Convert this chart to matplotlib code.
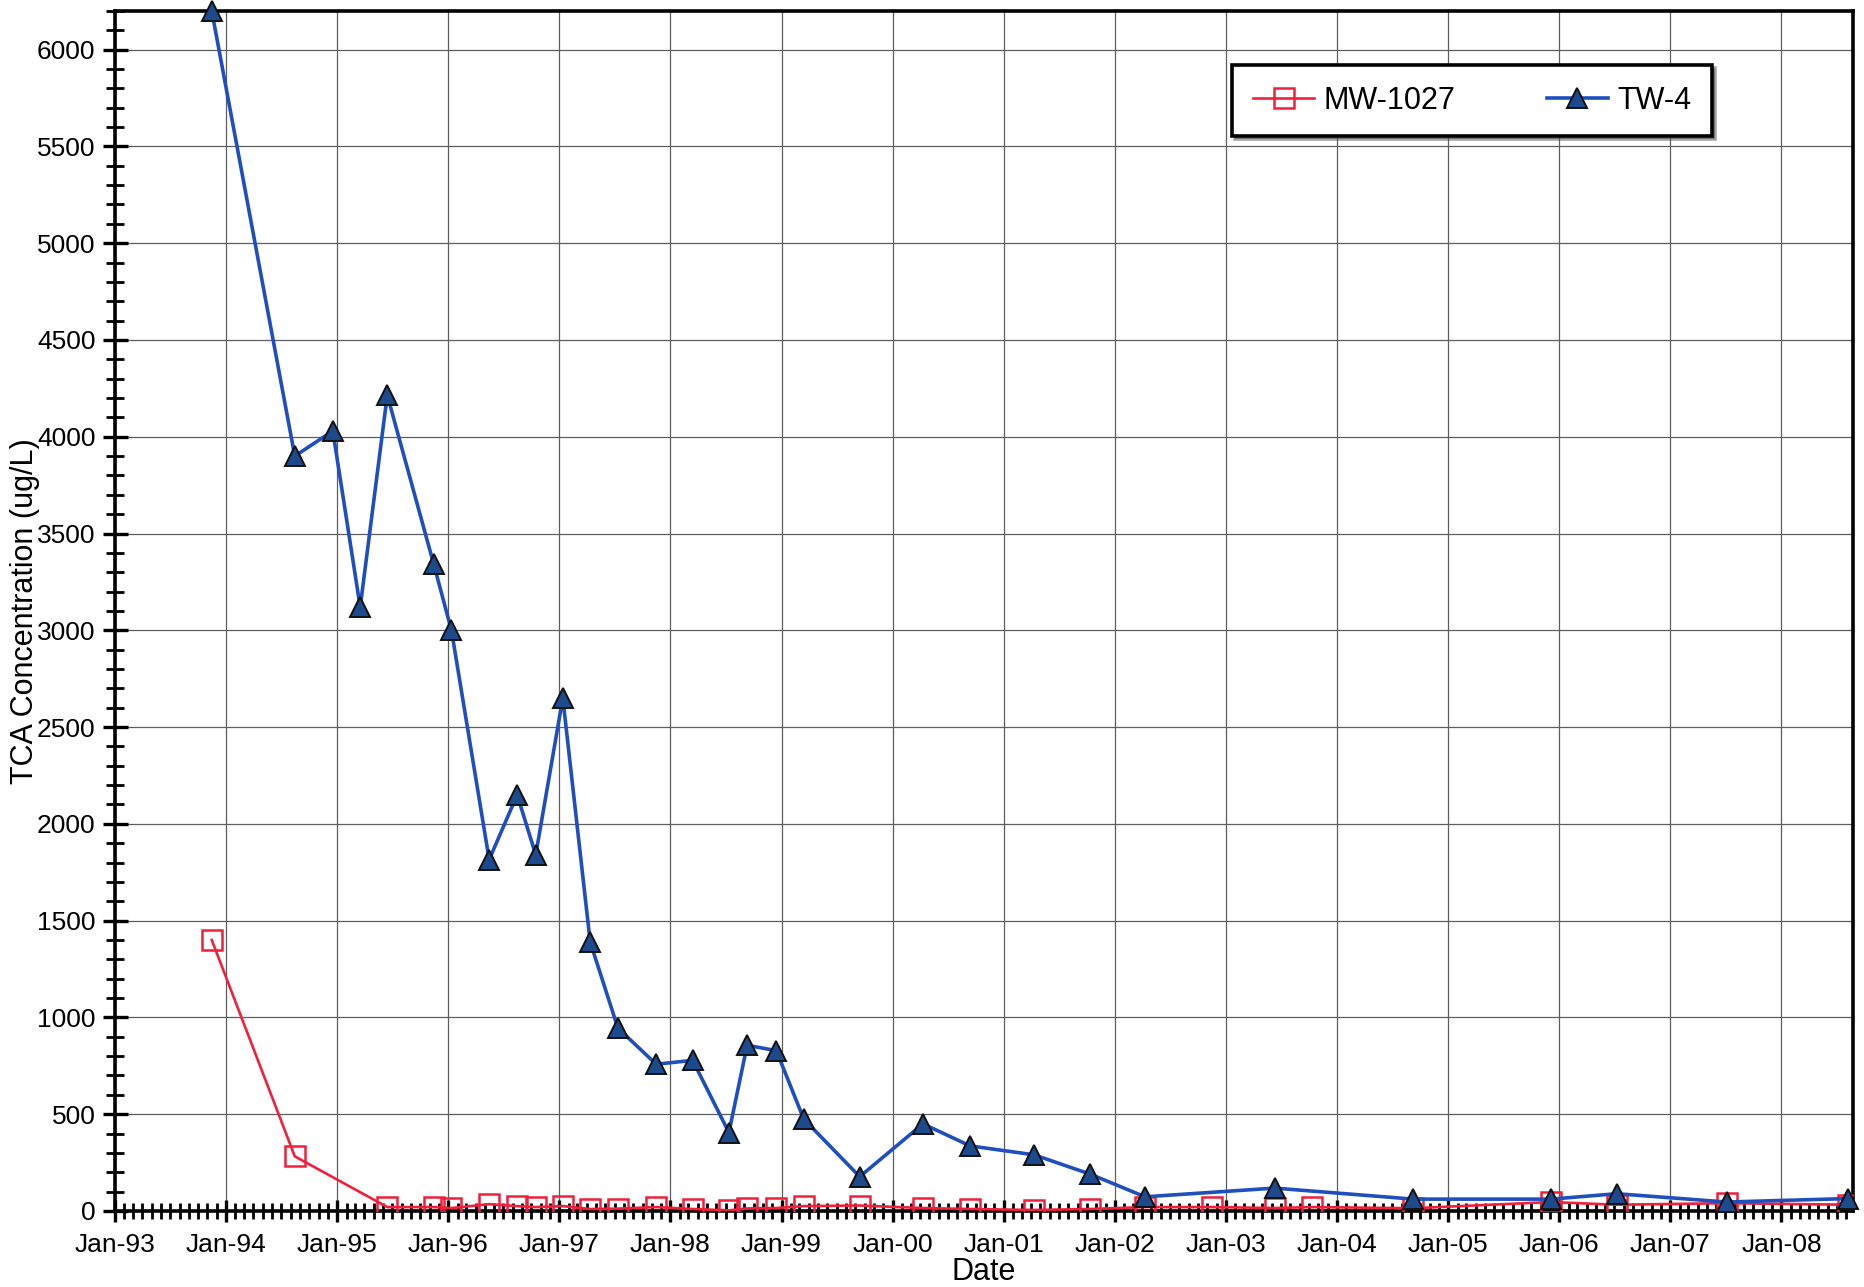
import matplotlib
matplotlib.use("Agg")
import matplotlib.pyplot as plt
import matplotlib.dates as mdates
import pandas as pd

plt.rcParams['font.family'] = ['Liberation Sans', 'DejaVu Sans']

# sample dates and TCA concentrations (ug/L)
tw4_dates = ["1993-11-15", "1994-08-15", "1994-12-18", "1995-03-18", "1995-06-15",
             "1995-11-15", "1996-01-12", "1996-05-15", "1996-08-15", "1996-10-15",
             "1997-01-12", "1997-04-12", "1997-07-12", "1997-11-15", "1998-03-15",
             "1998-07-12", "1998-09-10", "1998-12-15", "1999-03-15", "1999-09-15",
             "2000-04-10", "2000-09-12", "2001-04-10", "2001-10-12", "2002-04-10",
             "2003-06-10", "2004-09-08", "2005-12-05", "2006-07-08", "2007-07-05",
             "2008-08-08"]
tw4_vals = [6200, 3900, 4030, 3120, 4215, 3340, 3000, 1815, 2150, 1840,
            2650, 1390, 945, 758, 778, 405, 856, 828, 475, 177,
            450, 336, 290, 190, 73, 118, 61, 61, 89, 46, 64]

mw_dates = ["1993-11-15", "1994-08-15", "1995-06-15", "1995-11-15", "1996-01-12",
            "1996-05-15", "1996-08-15", "1996-10-15", "1997-01-12", "1997-04-12",
            "1997-07-12", "1997-11-15", "1998-03-15", "1998-07-12", "1998-09-10",
            "1998-12-15", "1999-03-15", "1999-09-15", "2000-04-10", "2000-09-12",
            "2001-04-10", "2001-10-12", "2002-04-10", "2002-11-15", "2003-06-10",
            "2003-10-10", "2004-09-08", "2005-12-05", "2006-07-08", "2007-07-05",
            "2008-08-08"]
mw_vals = [1400, 282, 20, 20, 15, 35, 25, 20, 25, 10,
           12, 20, 10, 3, 13, 15, 25, 28, 15, 10,
           5, 10, 20, 20, 15, 20, 14, 46, 32, 40, 32]

tw4_dates = pd.to_datetime(tw4_dates)
mw_dates = pd.to_datetime(mw_dates)

fig = plt.figure(figsize=(18.64, 12.87), dpi=100)
ax = fig.add_axes([0.0617, 0.0591, 0.9322, 0.9324])

ax.plot(mw_dates, mw_vals, color='#f0203c', lw=1.9, marker='s', ms=14,
        mfc='none', mec='#f0203c', mew=1.8, label='MW-1027', zorder=3)
ax.plot(tw4_dates, tw4_vals, color='#1f4fbf', lw=2.6, marker='^', ms=14,
        mfc='#1d4a8c', mec='#111111', mew=1.4, label='TW-4', zorder=4,
        clip_on=False)

ax.set_xlim(pd.Timestamp("1993-01-01"), pd.Timestamp("2008-08-22"))
ax.set_ylim(0, 6200)

ax.xaxis.set_major_locator(mdates.YearLocator())
ax.xaxis.set_major_formatter(mdates.DateFormatter('Jan-%y'))
ax.xaxis.set_minor_locator(mdates.MonthLocator())
ax.set_yticks(range(0, 6001, 500))
ax.set_yticks(range(0, 6201, 100), minor=True)

ax.grid(True, which='major', color='#5e5e5e', lw=0.9)
ax.set_axisbelow(True)

for s in ax.spines.values():
    s.set_linewidth(2.6)
    s.set_color('black')

ax.tick_params(axis='x', which='major', direction='inout', length=16, width=2.4,
               labelsize=19, pad=8)
ax.tick_params(axis='x', which='minor', direction='inout', length=12, width=2.0)
ax.tick_params(axis='y', which='major', direction='inout', length=18, width=2.4,
               labelsize=19, pad=5)
ax.tick_params(axis='y', which='minor', direction='inout', length=13, width=2.0)

ax.set_xlabel('Date', fontsize=22, labelpad=0)
ax.set_ylabel('TCA Concentration (ug/L)', fontsize=22)
ax.yaxis.set_label_coords(-0.043, 0.5)

leg = ax.legend(loc='upper left', bbox_to_anchor=(0.643, 0.955), ncol=2,
                fontsize=22, frameon=True, fancybox=False, shadow=True,
                borderpad=0.68, columnspacing=3.0, handlelength=2.0,
                handletextpad=0.3, borderaxespad=0)
leg.get_frame().set_edgecolor('black')
leg.get_frame().set_linewidth(2.6)

fig.savefig('out.png', dpi=100)
